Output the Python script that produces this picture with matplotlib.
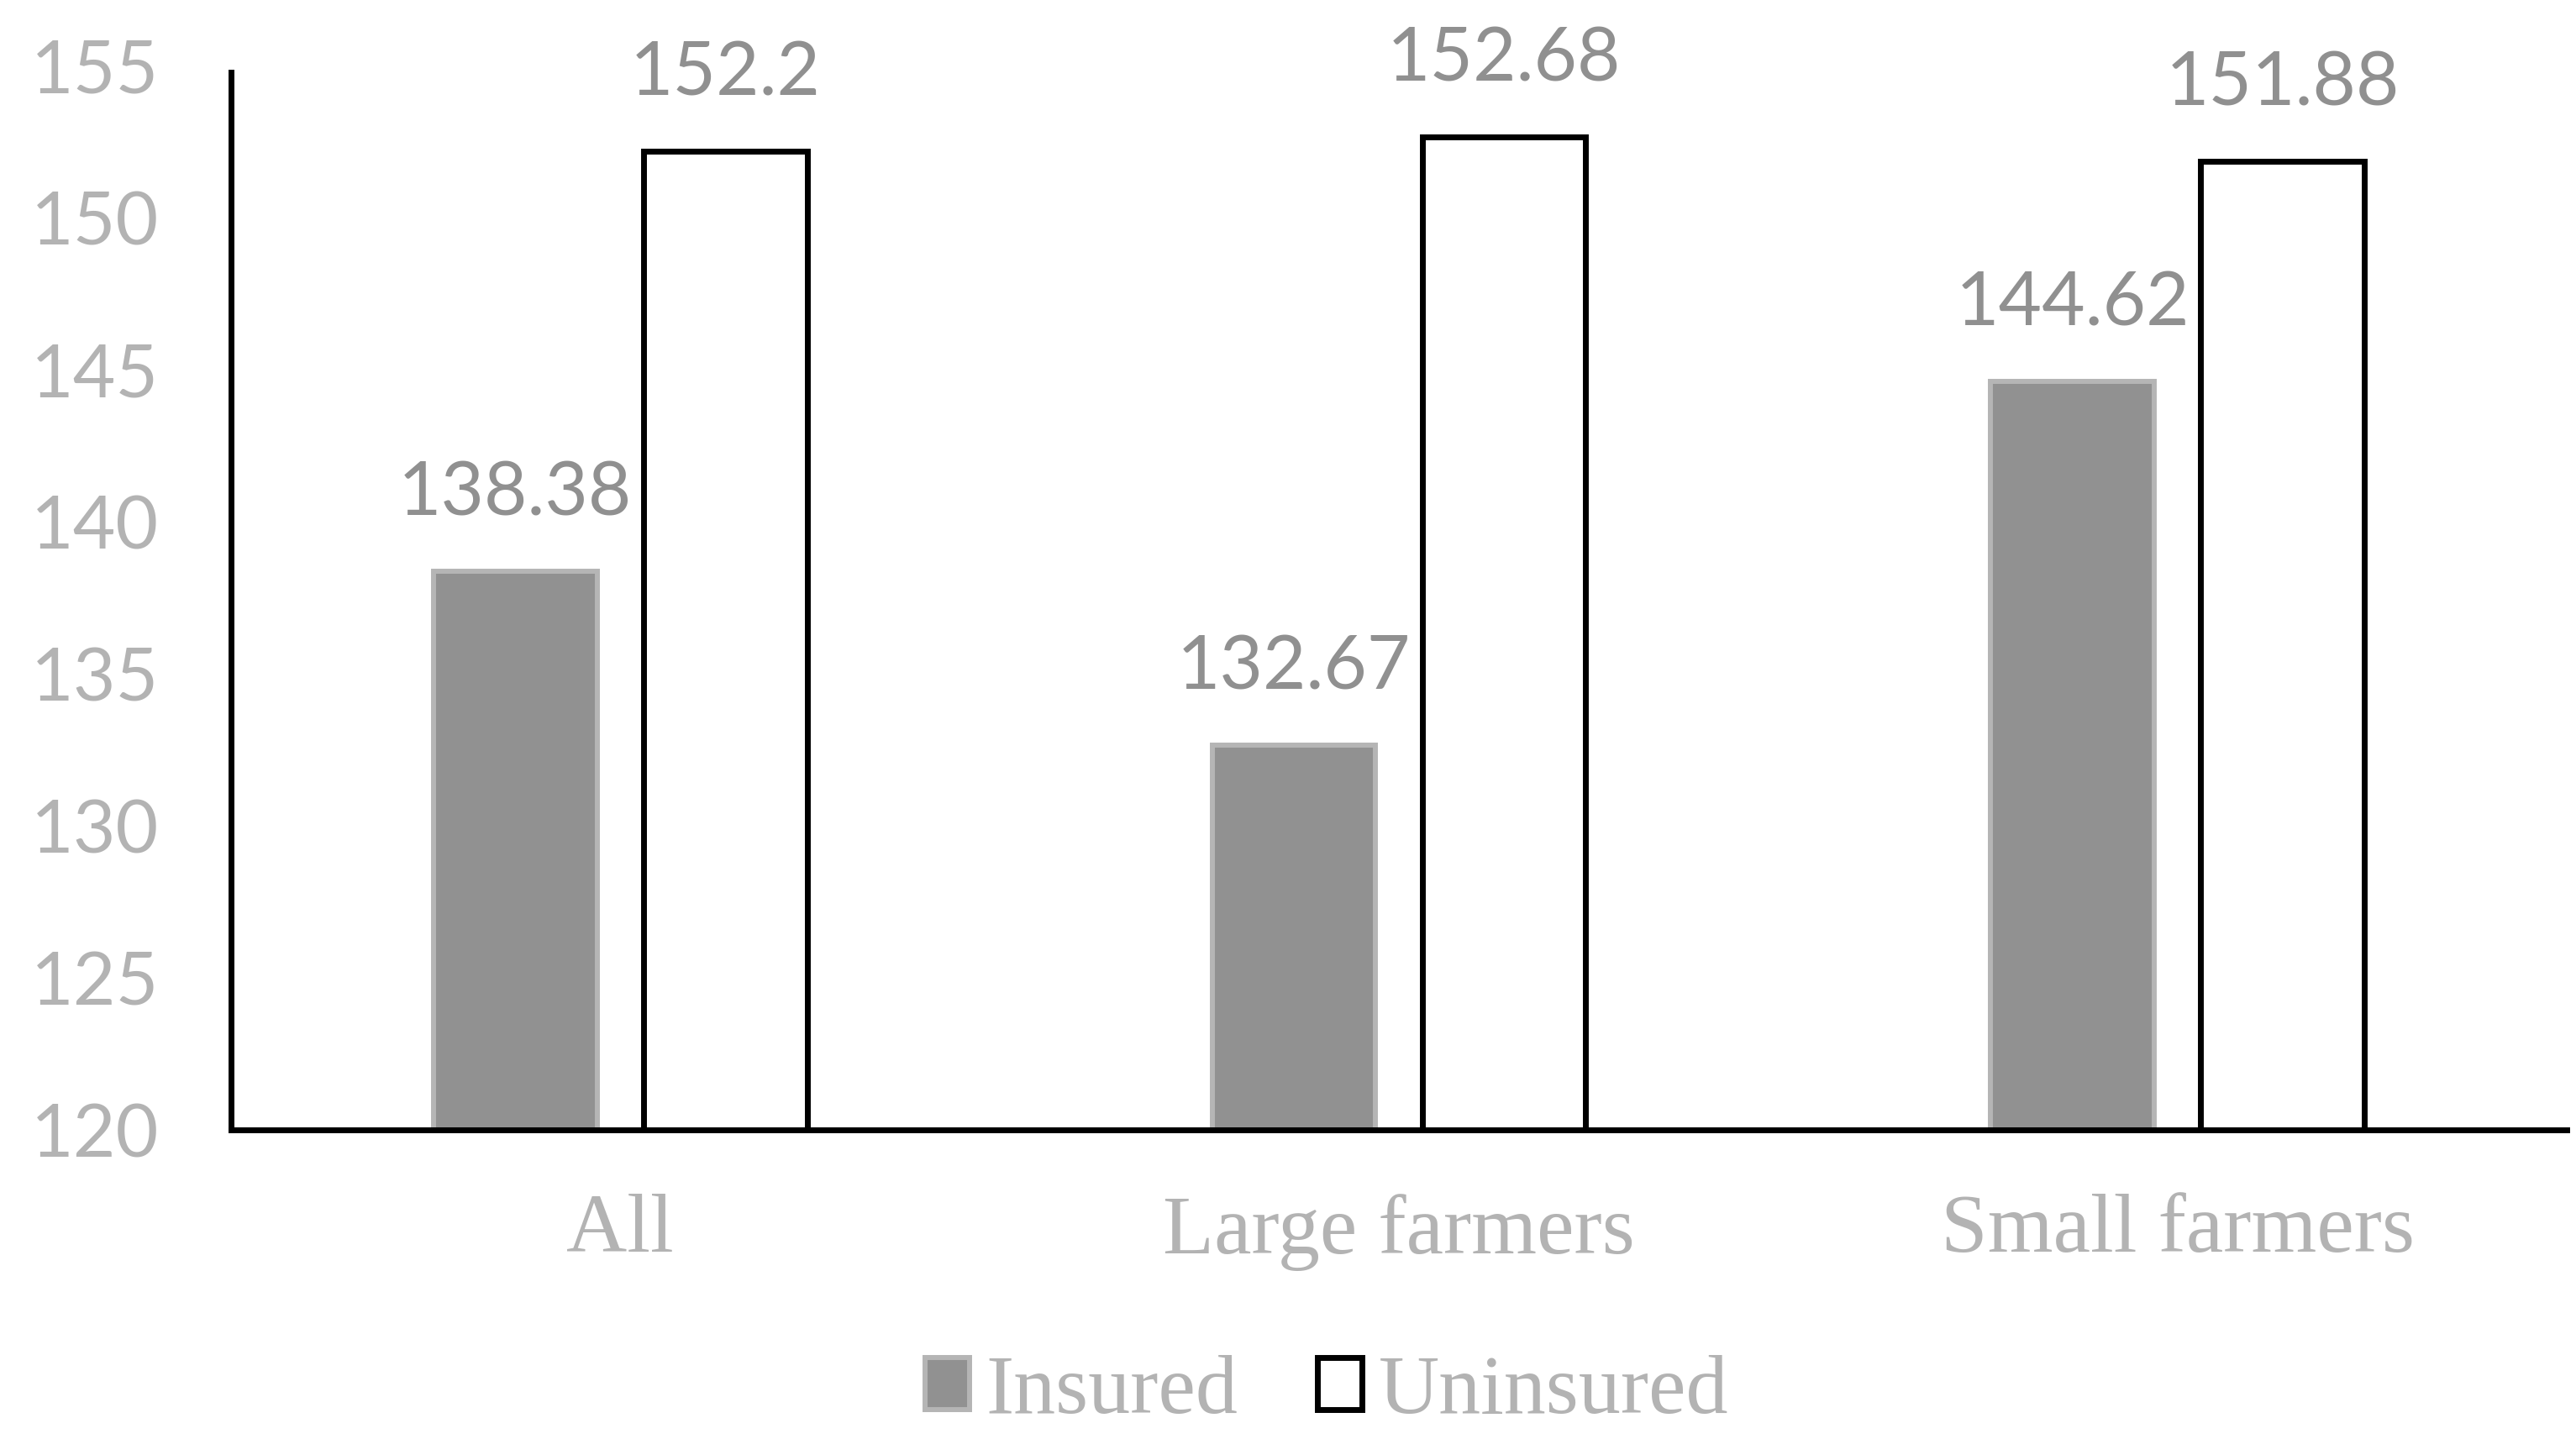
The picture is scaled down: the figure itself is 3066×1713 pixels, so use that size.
import matplotlib
matplotlib.use("Agg")
import matplotlib.pyplot as plt
import numpy as np

categories = ["All", "Large farmers", "Small farmers"]
insured = [138.38, 132.67, 144.62]
uninsured = [152.2, 152.68, 151.88]
yticks = [120, 125, 130, 135, 140, 145, 150, 155]

fig = plt.figure(figsize=(30.66, 17.13), dpi=100)
ax = fig.add_axes([0.0897, 0.2148, 0.9067, 0.7391])

x = np.arange(len(categories))
w = 0.21
off = 0.135
b1 = ax.bar(x - off, insured, w, color="#919191", edgecolor="#b5b5b5", linewidth=4.3, label="Insured", zorder=2)
b2 = ax.bar(x + off, uninsured, w, color="white", edgecolor="black", linewidth=5, label="Uninsured", zorder=2)

ax.set_ylim(120, 155)
ax.set_xlim(-0.5, 2.5)
ax.set_yticks(yticks)
ax.set_xticks(x)
ax.set_xticklabels(categories, fontfamily="Liberation Serif", fontsize=72, color="#b3b3b3")
for lab in ax.get_yticklabels():
    lab.set_fontfamily("Lato")
    lab.set_fontsize(63)
    lab.set_color("#b3b3b3")
ax.tick_params(axis="y", length=0, pad=62)
ax.tick_params(axis="x", length=0, pad=55)

for s in ["top", "right"]:
    ax.spines[s].set_visible(False)
ax.spines["left"].set_linewidth(5)
ax.spines["bottom"].set_linewidth(5)
ax.spines["left"].set_bounds(120, 154.8)
ax.spines["left"].set_zorder(3)
ax.spines["bottom"].set_zorder(3)

for bars, vals in ((b1, insured), (b2, uninsured)):
    for r, v in zip(bars, vals):
        ax.annotate(f"{v:g}", (r.get_x() + r.get_width() / 2, v), xytext=(0, 66),
                    textcoords="offset points", ha="center", va="center",
                    fontfamily="Lato", fontsize=64, color="#909090")

leg = fig.legend(handles=[b1, b2], labels=["Insured", "Uninsured"], loc="center",
                 bbox_to_anchor=(0.515, 0.032), ncol=2, frameon=False,
                 prop={"family": "Liberation Serif", "size": 72},
                 handlelength=0.53, handleheight=0.57, handletextpad=0.2, columnspacing=0.94)
for t in leg.get_texts():
    t.set_color("#b3b3b3")

fig.savefig("out.png", dpi=100)
